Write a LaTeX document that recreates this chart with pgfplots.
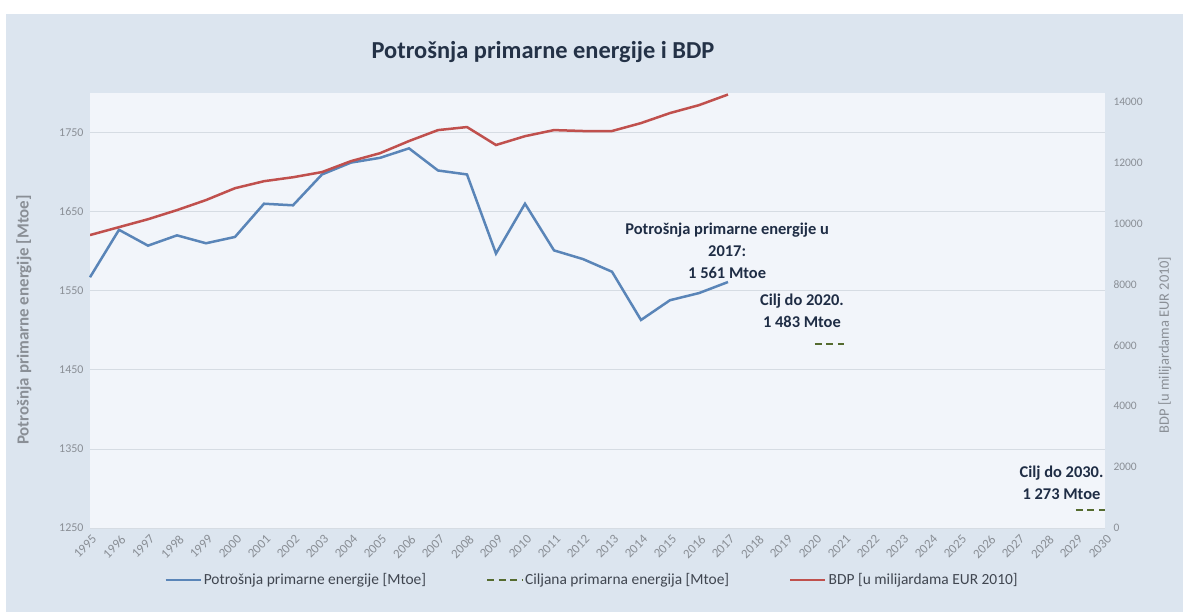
\documentclass[border=0pt]{standalone}
\usepackage{pgfplots}
\pgfplotsset{compat=1.18}
\usepackage{fontspec}
\setmainfont{Carlito}

\definecolor{chartbg}{HTML}{DCE5EF}
\definecolor{plotbg}{HTML}{F2F5FA}
\definecolor{gridc}{HTML}{D6DCE3}
\definecolor{tickc}{HTML}{8A8F96}
\definecolor{legc}{HTML}{404650}
\definecolor{bluel}{HTML}{5A85B8}
\definecolor{redl}{HTML}{C0504D}
\definecolor{targetc}{HTML}{556B2F}
\definecolor{annot}{HTML}{1F2D45}
\definecolor{titlec}{HTML}{243247}

\pgfplotstableread{
year energy gdp
1995 1567 9630
1996 1627 9890
1997 1607 10150
1998 1620 10450
1999 1610 10780
2000 1618 11170
2001 1660 11400
2002 1658 11530
2003 1697 11700
2004 1712 12060
2005 1718 12320
2006 1730 12720
2007 1702 13080
2008 1697 13180
2009 1597 12590
2010 1660 12880
2011 1601 13080
2012 1590 13050
2013 1574 13050
2014 1513 13310
2015 1538 13640
2016 1547 13900
2017 1561 14250
}\datatable

\begin{document}
\begin{tikzpicture}[x=1bp,y=1bp]
\fill[white] (0,0) rectangle (1188,615);
\fill[chartbg] (6,3) rectangle (1183,601);
\node[font=\fontsize{24.5}{28}\selectfont\bfseries, text=titlec] at (543,563) {Potrošnja primarne energije i BDP};
\node[rotate=90, font=\fontsize{17}{20}\selectfont\bfseries, text=tickc] at (24,295) {Potrošnja primarne energije [Mtoe]};
\node[rotate=90, font=\fontsize{14.5}{17}\selectfont, text=tickc] at (1165,270) {BDP [u milijardama EUR 2010]};

\begin{axis}[
  at={(90bp,87bp)}, anchor=south west,
  width=1015bp, height=435bp, scale only axis,
  clip=false,
  axis background/.style={fill=plotbg},
  axis line style={draw=none},
  major tick style={draw=none},
  xmin=1995, xmax=2030,
  ymin=1250, ymax=1800,
  xtick={1995,1996,...,2030},
  ytick={1250,1350,...,1750},
  ymajorgrids, grid style={gridc, line width=0.8bp},
  /pgf/number format/assume math mode=true,
  /pgf/number format/1000 sep={},
  xticklabel style={rotate=45, anchor=north east, font=\fontsize{13}{15}\selectfont, text=tickc, yshift=-2bp},
  yticklabel style={font=\fontsize{12}{14}\selectfont, text=tickc, xshift=-3bp},
  legend style={at={(0.4946,-0.1195)}, anchor=center, draw=none, fill=none,
    font=\fontsize{15.5}{18}\selectfont, text=legc, legend columns=3,
    /tikz/every even column/.append style={column sep=58bp}},
  legend cell align=left,
  legend image code/.code={\draw[#1] (0bp,0bp) -- (35bp,0bp);},
]
\addplot[bluel, line width=2.5bp] table[x=year, y=energy] {\datatable};
\addlegendentry{Potrošnja primarne energije [Mtoe]}
\addplot[targetc, line width=2bp, dash pattern=on 7bp off 4.5bp] coordinates {(2020,1483) (2021,1483)};
\addlegendentry{Ciljana primarna energija [Mtoe]}
\addplot[targetc, line width=2bp, dash pattern=on 7bp off 4.5bp, forget plot] coordinates {(2029,1273) (2030,1273)};
\addlegendimage{redl, line width=2.5bp}
\addlegendentry{BDP [u milijardama EUR 2010]}

\node[align=center, font=\fontsize{16.5}{22}\selectfont\bfseries, text=annot] at (axis cs:2016.97,1601) {Potrošnja primarne energije u\\2017:\\1 561 Mtoe};
\node[align=center, font=\fontsize{16.5}{22}\selectfont\bfseries, text=annot] at (axis cs:2019.55,1524.6) {Cilj do 2020.\\1 483 Mtoe};
\node[align=center, font=\fontsize{16.5}{22}\selectfont\bfseries, text=annot] at (axis cs:2028.5,1307.4) {Cilj do 2030.\\1 273 Mtoe};
\end{axis}

\begin{axis}[
  at={(90bp,87bp)}, anchor=south west,
  width=1015bp, height=435bp, scale only axis,
  axis y line*=right, axis x line=none,
  axis line style={draw=none},
  major tick style={draw=none},
  xmin=1995, xmax=2030,
  ymin=0, ymax=14300,
  ytick={0,2000,...,14000},
  scaled y ticks=false,
  /pgf/number format/assume math mode=true,
  /pgf/number format/1000 sep={},
  yticklabel style={font=\fontsize{11.5}{13}\selectfont, text=tickc, anchor=west, xshift=5bp},
]
\addplot[redl, line width=2.5bp] table[x=year, y=gdp] {\datatable};
\end{axis}
\end{tikzpicture}
\end{document}
